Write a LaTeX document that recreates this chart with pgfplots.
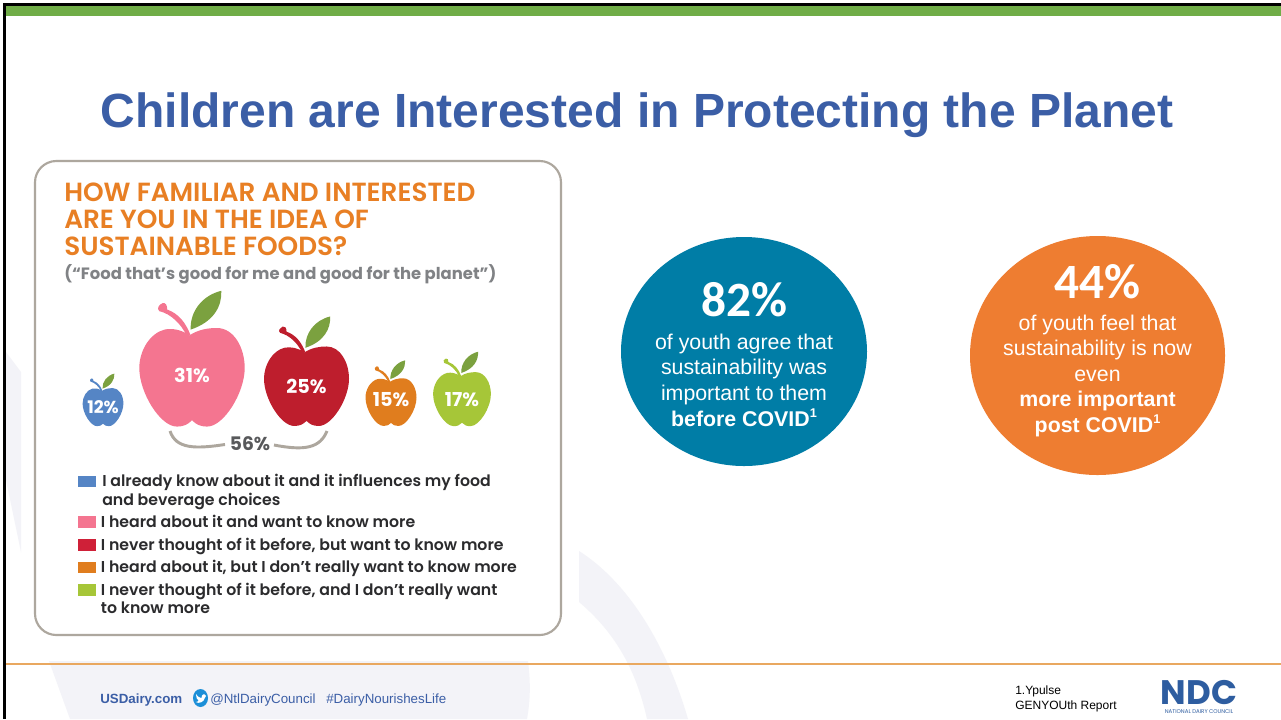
\documentclass[border=0pt]{standalone}
\usepackage{fontspec}
\usepackage{pgfplots}
\pgfplotsset{compat=1.18}
\setmainfont{Liberation Sans}
\newfontfamily\gotham{Poppins}
\newfontfamily\gothamsemi{Poppins SemiBold}
\newfontfamily\carlito{Carlito}

\definecolor{titleblue}{HTML}{3B5EA6}
\definecolor{topgreen}{HTML}{70AD47}
\definecolor{ghost}{HTML}{F3F3F8}
\definecolor{footerline}{HTML}{E9A860}
\definecolor{cardline}{HTML}{ADA79E}
\definecolor{headorange}{HTML}{E87F24}
\definecolor{subgrey}{HTML}{808285}
\definecolor{legendink}{HTML}{2B2B2D}
\definecolor{bracketink}{HTML}{58595B}
\definecolor{appleblue}{HTML}{5585C5}
\definecolor{applepink}{HTML}{F47590}
\definecolor{applered}{HTML}{BE1E2D}
\definecolor{swatchred}{HTML}{CF2038}
\definecolor{appleorange}{HTML}{E07D1E}
\definecolor{applegreen}{HTML}{A6C638}
\definecolor{leafgreen}{HTML}{7BA13F}
\definecolor{tealcircle}{HTML}{007DA6}
\definecolor{orangecircle}{HTML}{EE7D31}
\definecolor{twitterblue}{HTML}{1C8FD8}
\definecolor{ndcblue}{HTML}{2E5DA0}

% Apple glyph: half width = mark size, origin at the middle of the fruit
\def\au#1#2{\pgfpoint{#1\pgfplotmarksize}{#2\pgfplotmarksize}}
\newcommand\declareapple[2]{%
  \pgfdeclareplotmark{#1}{%
    \pgfsetlinewidth{0pt}%
    \pgfsetfillcolor{leafgreen}%
    \pgfpathmoveto{\au{-0.025}{0.90}}%
    \pgfpathcurveto{\au{-0.04}{1.25}}{\au{0.2}{1.55}}{\au{0.556}{1.636}}%
    \pgfpathcurveto{\au{0.57}{1.35}}{\au{0.42}{1.05}}{\au{-0.025}{0.90}}%
    \pgfpathclose\pgfusepathqfill
    \pgfsetfillcolor{#2}%
    \pgfpathmoveto{\au{-0.03}{0.80}}%
    \pgfpathcurveto{\au{-0.12}{1.03}}{\au{-0.25}{1.2}}{\au{-0.47}{1.28}}%
    \pgfpathcurveto{\au{-0.47}{1.36}}{\au{-0.5}{1.42}}{\au{-0.56}{1.40}}%
    \pgfpathcurveto{\au{-0.62}{1.38}}{\au{-0.68}{1.30}}{\au{-0.62}{1.25}}%
    \pgfpathcurveto{\au{-0.4}{1.2}}{\au{-0.2}{1.0}}{\au{-0.1}{0.78}}%
    \pgfpathclose\pgfusepathqfill
    \pgfpathmoveto{\au{-0.05}{0.79}}%
    \pgfpathcurveto{\au{-0.2}{0.90}}{\au{-0.38}{0.93}}{\au{-0.52}{0.90}}%
    \pgfpathcurveto{\au{-0.8}{0.83}}{\au{-1}{0.5}}{\au{-1}{0.17}}%
    \pgfpathcurveto{\au{-1}{-0.3}}{\au{-0.6}{-0.94}}{\au{-0.29}{-0.94}}%
    \pgfpathcurveto{\au{-0.15}{-0.94}}{\au{-0.08}{-0.90}}{\au{0}{-0.82}}%
    \pgfpathcurveto{\au{0.08}{-0.90}}{\au{0.15}{-0.94}}{\au{0.29}{-0.94}}%
    \pgfpathcurveto{\au{0.6}{-0.94}}{\au{1}{-0.3}}{\au{1}{0.17}}%
    \pgfpathcurveto{\au{1}{0.55}}{\au{0.8}{0.93}}{\au{0.47}{0.93}}%
    \pgfpathcurveto{\au{0.3}{0.93}}{\au{0.12}{0.90}}{\au{-0.05}{0.79}}%
    \pgfpathclose\pgfusepathqfill
  }%
}
\declareapple{apple blue}{appleblue}
\declareapple{apple pink}{applepink}
\declareapple{apple red}{applered}
\declareapple{apple orange}{appleorange}
\declareapple{apple green}{applegreen}

% One apple: centre x, centre y, share in percent, mark name, label size, label shift
\newcommand\appleplot[6]{%
  \addplot[only marks, mark=#4, mark size={1.275*#3},
    point meta=explicit, nodes near coords={\pgfmathprintnumber{\pgfplotspointmeta}\%},
    every node near coord/.append style={anchor=center, inner sep=0pt, text=white, yshift=#6,
      font=\gotham\bfseries\fontsize{#5}{#5}\selectfont}]
    coordinates {(#1,#2) [#3]};%
}
\newcommand\lgd[3]{\node[anchor=base west, inner sep=0pt, text=legendink,
  font=\gothamsemi\fontsize{11.8pt}{12pt}\selectfont] at (#1,#2) {#3};}
\newcommand\swatch[2]{\fill[#2] (78.3,#1) rectangle (95.7,#1+11.5);}
\newcommand\bubble[3]{\node[anchor=base, inner sep=0pt, text=white,
  font=\fontsize{16pt}{16pt}\selectfont] at (#1,#2) {#3};}
\newcommand\note{\raisebox{0.42em}{\fontsize{9.5pt}{9.5pt}\selectfont 1}}

\begin{document}
\begin{tikzpicture}
\useasboundingbox (0,0) rectangle (960.75pt,539.25pt);
\begin{axis}[
  at={(0,0)}, anchor=south west,
  scale only axis, width=960.75pt, height=539.25pt,
  xmin=0, xmax=1281, ymin=0, ymax=719, y dir=reverse,
  hide axis, clip=false,
  /pgf/number format/assume math mode=true,
  /pgf/number format/precision=0,
]
% slide frame and top band
\fill[white] (0,0) rectangle (1281,719);
\fill[ghost] (6,352) -- (21,372) -- (21,552) -- (6,480) -- cycle;
\fill[ghost] (49,661) -- (528,661) .. controls (531,685) and (530,702) .. (527,719) -- (70,719) -- cycle;
\fill[ghost] (579,551) .. controls (625,580) and (665,640) .. (688,719)
  -- (647,719) .. controls (635,665) and (612,630) .. (579,602) -- cycle;
\fill[black] (3,3) rectangle (1281,5.5);
\fill[black] (3,3) rectangle (6,719);
\fill[topgreen] (6,5.5) rectangle (1281,16);
\fill[footerline] (6,662.8) rectangle (1281,664.8);

% headline
\node[anchor=base, inner sep=0pt, text=titleblue,
  font=\bfseries\fontsize{36pt}{40pt}\selectfont] at (637,127)
  {Children are Interested in Protecting the Planet};

% survey card
\draw[cardline, line width=1.6pt, fill=white, rounded corners=16pt] (35,161) rectangle (561,635);
\node[anchor=base west, inner sep=0pt, text=headorange, font=\gothamsemi\fontsize{19.7pt}{18pt}\selectfont] at (64,201.5) {HOW FAMILIAR AND INTERESTED};
\node[anchor=base west, inner sep=0pt, text=headorange, font=\gothamsemi\fontsize{19.7pt}{18pt}\selectfont] at (64,228) {ARE YOU IN THE IDEA OF};
\node[anchor=base west, inner sep=0pt, text=headorange, font=\gothamsemi\fontsize{19.7pt}{18pt}\selectfont] at (64,255) {SUSTAINABLE FOODS?};
\node[anchor=base west, inner sep=0pt, text=subgrey, font=\gotham\bfseries\fontsize{12.3pt}{12pt}\selectfont] at (64,279) {(“Food that’s good for me and good for the planet”)};

\appleplot{103}{407}{12}{apple blue}{13pt}{0pt}
\appleplot{192}{377}{31}{apple pink}{14.4pt}{1.5pt}
\appleplot{306.5}{386}{25}{apple red}{14.4pt}{0pt}
\appleplot{391}{402}{15}{apple orange}{14.4pt}{1.5pt}
\appleplot{462}{399}{17}{apple green}{14.4pt}{-0.7pt}

% bracket joining the two "want to know more" shares
\draw[cardline, line width=2.2pt] (170,431) .. controls (176,449) and (195,449) .. (225,444.5);
\draw[cardline, line width=2.2pt] (274,445) .. controls (305,451) and (320,448) .. (327,431);
\node[anchor=center, inner sep=0pt, text=bracketink, font=\gotham\bfseries\fontsize{14pt}{14pt}\selectfont] at (250,444) {56\%};

% key
\swatch{475.7}{appleblue}
\swatch{516}{applepink}
\swatch{539}{swatchred}
\swatch{561.5}{appleorange}
\swatch{584}{applegreen}
\lgd{102}{486.5}{I already know about it and it influences my food}
\lgd{102}{505}{and beverage choices}
\lgd{100.7}{527}{I heard about it and want to know more}
\lgd{100.7}{550}{I never thought of it before, but want to know more}
\lgd{100.7}{572}{I heard about it, but I don’t really want to know more}
\lgd{100.7}{595}{I never thought of it before, and I don’t really want}
\lgd{100.7}{613}{to know more}

% two headline figures
\fill[tealcircle] (744,351.5) ellipse [x radius=123, y radius=114.5];
\fill[orangecircle] (1097.5,355.5) ellipse [x radius=127.5, y radius=119.5];
\node[anchor=base, inner sep=0pt, text=white, font=\carlito\bfseries\fontsize{37pt}{37pt}\selectfont] at (744,316) {82\%};
\bubble{744}{349}{of youth agree that}
\bubble{744}{374}{sustainability was}
\bubble{744}{400}{important to them}
\bubble{744}{426}{\bfseries before COVID\note}
\node[anchor=base, inner sep=0pt, text=white, font=\carlito\bfseries\fontsize{37pt}{37pt}\selectfont] at (1097.5,298) {44\%};
\bubble{1097.5}{330}{of youth feel that}
\bubble{1097.5}{355}{sustainability is now}
\bubble{1097.5}{381}{even}
\bubble{1097.5}{406}{\bfseries more important}
\bubble{1097.5}{432}{\bfseries post COVID\note}

% footer
\node[anchor=base west, inner sep=0pt, text=titleblue, font=\bfseries\fontsize{10pt}{11pt}\selectfont] at (100,703) {USDairy.com};
\fill[twitterblue] (200.5,698) ellipse [x radius=7.5, y radius=9];
\fill[white] (196,694) .. controls (198,697) and (200,698) .. (201.5,698)
  .. controls (201.5,694) and (204.5,693) .. (206,696) -- (204.5,698.5)
  .. controls (204,702) and (199,704) .. (195.5,702) .. controls (197,702) and (198,701.5) .. (198.5,700.5)
  .. controls (197,700) and (196,697) .. (196,694) -- cycle;
\node[anchor=base west, inner sep=0pt, text=titleblue, font=\fontsize{10pt}{11pt}\selectfont] at (210,703) {@NtlDairyCouncil};
\node[anchor=base west, inner sep=0pt, text=titleblue, font=\fontsize{10pt}{11pt}\selectfont] at (326,703) {\#DairyNourishesLife};
\node[anchor=base west, inner sep=0pt, text=black, font=\fontsize{9pt}{10pt}\selectfont] at (1015,694) {1.Ypulse};
\node[anchor=base west, inner sep=0pt, text=black, font=\fontsize{9pt}{10pt}\selectfont] at (1015,709) {GENYOUth Report};

% council mark
\node[anchor=south, inner sep=0pt, text=ndcblue, align=center,
  font=\fontsize{4.1pt}{6.4pt}\selectfont] at (1199,713.5)
  {{\gotham\bfseries\fontsize{25.5pt}{6.4pt}\selectfont NDC}\\{\gotham NATIONAL DAIRY COUNCIL}};
\end{axis}
\end{tikzpicture}
\end{document}
